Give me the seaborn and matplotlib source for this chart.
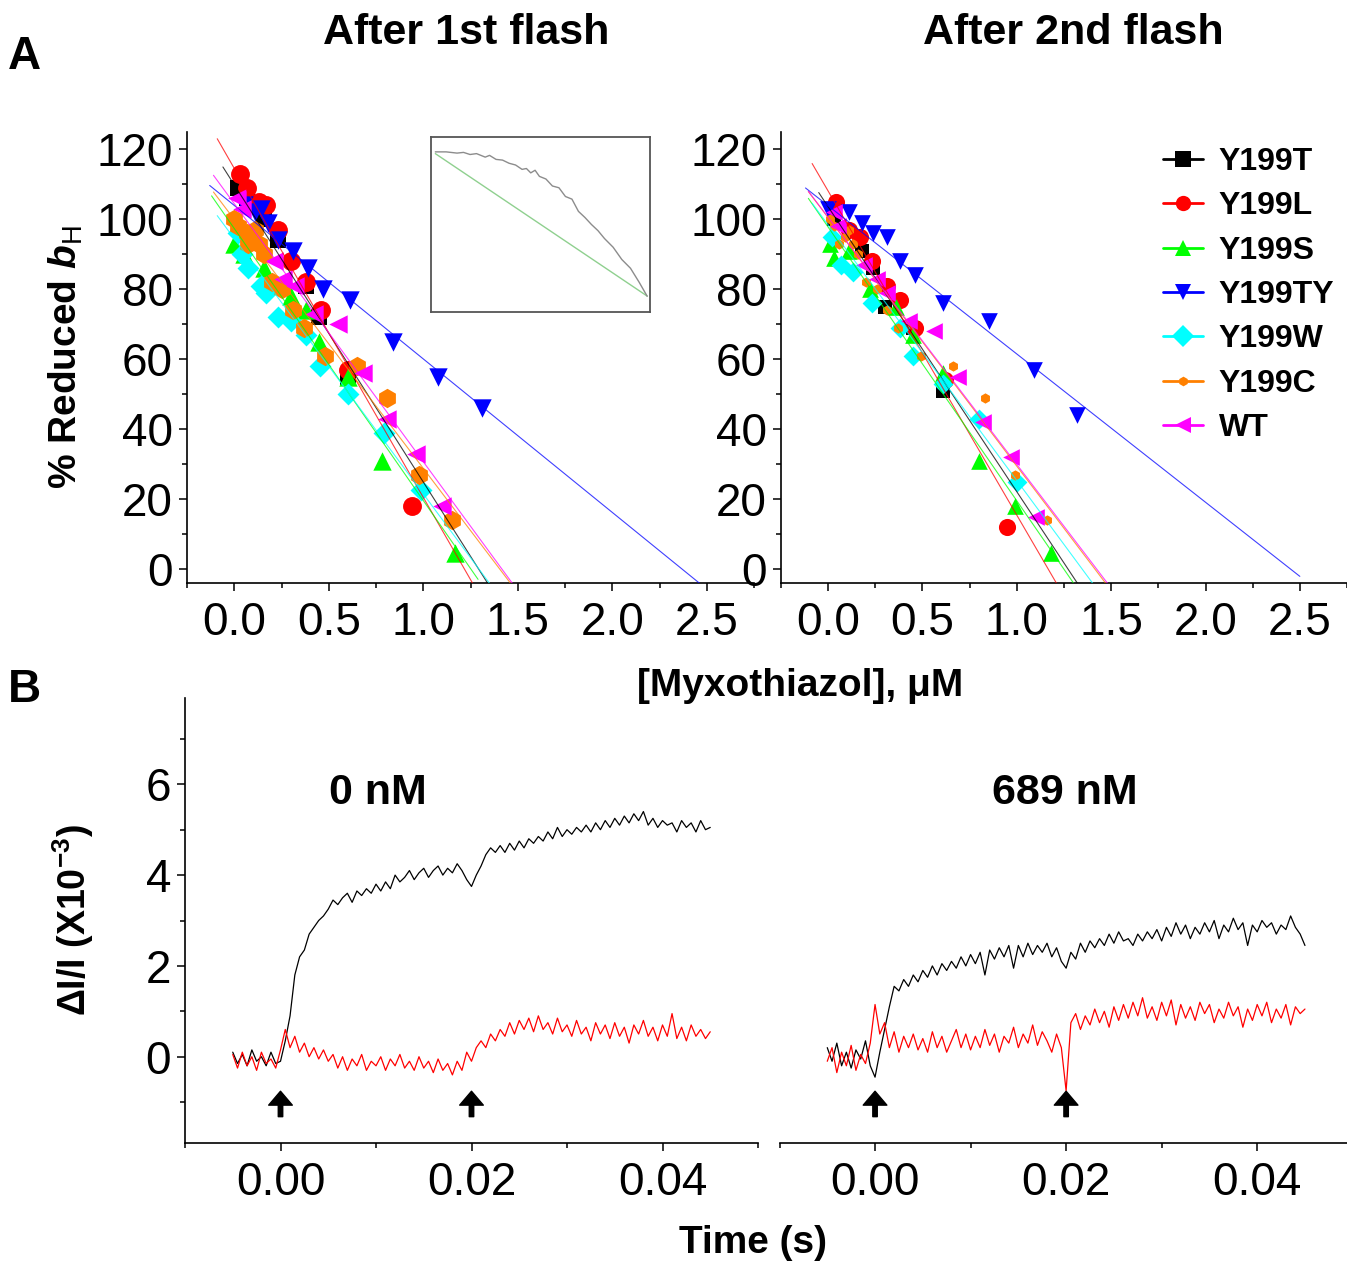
import numpy as np
import matplotlib
matplotlib.use("Agg")
import matplotlib.pyplot as plt
import seaborn as sns
from matplotlib.lines import Line2D
from matplotlib.ticker import MultipleLocator

# ---------------- Panel A: myxothiazol titration ----------------
mutants = ["Y199T", "Y199L", "Y199S", "Y199TY", "Y199W", "Y199C", "WT"]
colors = ["#000000", "#ff0000", "#00ff00", "#0000ff", "#00ffff", "#ff8000", "#ff00ff"]
markers = ["s", "o", "^", "v", "D", "h", "<"]

# after 1st flash
flash1_x = {
    "Y199T": [0.02, 0.07, 0.16, 0.23, 0.38, 0.45, 0.60],
    "Y199L": [0.03, 0.07, 0.13, 0.17, 0.23, 0.30, 0.38, 0.46, 0.60, 0.94],
    "Y199S": [0.00, 0.05, 0.16, 0.30, 0.38, 0.45, 0.60, 0.78, 1.17],
    "Y199TY": [0.05, 0.11, 0.14, 0.18, 0.23, 0.31, 0.39, 0.47, 0.61, 0.84, 1.08, 1.31],
    "Y199W": [0.02, 0.04, 0.075, 0.14, 0.17, 0.23, 0.30, 0.38, 0.455, 0.60, 0.79, 0.99],
    "Y199C": [0.0, 0.02, 0.07, 0.11, 0.075, 0.13, 0.155, 0.20, 0.25, 0.31, 0.37, 0.48, 0.65, 0.81, 0.98, 1.15],
    "WT": [0.015, 0.04, 0.21, 0.26, 0.32, 0.42, 0.55, 0.68, 0.81, 0.96, 1.10],
}
flash1_y = {
    "Y199T": [109, 106, 100, 94, 81, 72, 55],
    "Y199L": [113, 109, 105, 104, 97, 88, 82, 74, 57, 18],
    "Y199S": [93, 90, 86, 78, 74, 65, 55, 31, 4.6],
    "Y199TY": [104, 102, 103, 99, 94, 91, 86, 80, 77, 65, 55, 46],
    "Y199W": [96, 90, 86, 81, 79, 72, 71, 67, 58, 50, 39, 22.6],
    "Y199C": [100, 98, 96, 97, 93, 93, 90, 82, 80, 74, 69, 61, 58, 49, 27, 14],
    "WT": [106, 103, 88, 83, 81, 73, 70, 56, 43, 33, 18],
}
# linear fits: intercept, slope, x range
flash1_fit = {
    "Y199T": (109.9, -85.0, -0.06, 1.40),
    "Y199L": (114.6, -94.1, -0.09, 1.30),
    "Y199S": (97.4, -77.8, -0.12, 1.29),
    "Y199TY": (104.0, -43.9, -0.13, 2.50),
    "Y199W": (94.5, -73.0, -0.09, 1.40),
    "Y199C": (100.0, -71.2, -0.11, 1.50),
    "WT": (104.5, -73.8, -0.11, 1.50),
}

# after 2nd flash
flash2_x = {
    "Y199T": [0.03, 0.18, 0.24, 0.30, 0.45, 0.61],
    "Y199L": [0.04, 0.11, 0.17, 0.23, 0.31, 0.38, 0.46, 0.62, 0.95],
    "Y199S": [0.01, 0.03, 0.11, 0.22, 0.36, 0.45, 0.61, 0.80, 0.99, 1.18],
    "Y199TY": [0.0, 0.11, 0.18, 0.24, 0.31, 0.38, 0.46, 0.61, 0.85, 1.09, 1.32],
    "Y199W": [0.02, 0.07, 0.13, 0.23, 0.38, 0.45, 0.61, 0.80, 1.0],
    "Y199C": [0.01, 0.03, 0.11, 0.09, 0.06, 0.13, 0.16, 0.20, 0.26, 0.31, 0.37, 0.49, 0.66, 0.83, 0.99, 1.16],
    "WT": [0.03, 0.05, 0.19, 0.26, 0.31, 0.43, 0.56, 0.69, 0.82, 0.97, 1.10],
}
flash2_y = {
    "Y199T": [100, 91, 86, 75, 69, 51],
    "Y199L": [105, 97, 95, 88, 81, 77, 69, 54, 12],
    "Y199S": [93, 89, 91, 80, 75, 67, 56, 31, 18, 4.6],
    "Y199TY": [103, 102, 99, 96, 95, 88, 84, 76, 71, 57, 44],
    "Y199W": [95, 87, 85, 76, 69, 61, 53, 43, 25],
    "Y199C": [100, 98, 97, 95, 93, 93, 90, 82, 80, 74, 69, 61, 58, 49, 27, 14],
    "WT": [102, 98, 87, 83, 79, 71, 68, 55, 42, 32, 15],
}
flash2_fit = {
    "Y199T": (103.6, -81.5, -0.05, 1.40),
    "Y199L": (108.1, -92.7, -0.085, 1.30),
    "Y199S": (97.8, -78.3, -0.105, 1.30),
    "Y199TY": (103.9, -42.4, -0.12, 2.50),
    "Y199W": (98.4, -73.1, -0.085, 1.45),
    "Y199C": (100.5, -71.1, -0.105, 1.50),
    "WT": (100.6, -70.7, -0.105, 1.50),
}

# inset (arbitrary units)
inset_curve_x = [0.02, 0.07, 0.12, 0.15, 0.18, 0.21, 0.25, 0.27, 0.30, 0.33, 0.36, 0.39, 0.42, 0.44,
                 0.46, 0.48, 0.50, 0.53, 0.56, 0.59, 0.62, 0.65, 0.68, 0.71, 0.74, 0.77, 0.80, 0.84,
                 0.88, 0.92, 0.96, 0.997]
inset_curve_y = [0.915, 0.915, 0.908, 0.912, 0.900, 0.905, 0.885, 0.895, 0.872, 0.868, 0.850, 0.840,
                 0.815, 0.820, 0.795, 0.810, 0.775, 0.760, 0.720, 0.710, 0.660, 0.645, 0.575, 0.540,
                 0.500, 0.465, 0.420, 0.370, 0.300, 0.250, 0.170, 0.090]
inset_line_x = [0.02, 0.997]
inset_line_y = [0.905, 0.091]

# ---------------- Panel B: kinetic traces (dI/I x 1e-3) ----------------
trace_t = np.linspace(-0.005, 0.045, 101)
black_0nM = [0.1, -0.15, 0.05, -0.2, 0.15, -0.1, 0.0, -0.2, 0.1, -0.15,
             -0.1, 0.35, 0.9, 1.8, 2.2, 2.35, 2.7, 2.85, 3.0, 3.1,
             3.25, 3.45, 3.35, 3.5, 3.6, 3.4, 3.65, 3.55, 3.7, 3.6,
             3.8, 3.65, 3.85, 3.7, 4.0, 3.85, 3.95, 4.1, 3.9, 4.05,
             4.15, 3.95, 4.1, 4.2, 4.0, 4.15, 4.05, 4.25, 4.1, 3.9,
             3.75, 4.0, 4.2, 4.45, 4.6, 4.5, 4.65, 4.5, 4.7, 4.55,
             4.75, 4.6, 4.8, 4.7, 4.85, 4.75, 4.95, 4.8, 5.05, 4.85,
             5.0, 4.9, 5.05, 4.95, 5.1, 4.95, 5.15, 5.0, 5.2, 5.05,
             5.25, 5.1, 5.3, 5.15, 5.35, 5.2, 5.4, 5.1, 5.25, 5.05,
             5.2, 5.1, 5.15, 4.95, 5.2, 5.05, 5.15, 4.95, 5.2, 5.0, 5.05]
red_0nM = [0.05, -0.25, 0.1, -0.2, 0.0, -0.3, 0.1, -0.15, -0.05, -0.25,
           0.15, 0.6, 0.2, 0.45, 0.1, 0.3, 0.0, 0.2, -0.05, 0.15,
           -0.1, 0.05, -0.25, 0.0, -0.3, -0.05, -0.2, 0.05, -0.3, -0.1,
           -0.2, 0.0, -0.3, -0.05, -0.2, 0.05, -0.25, -0.1, -0.3, 0.0,
           -0.25, -0.1, -0.35, -0.05, -0.3, -0.15, -0.4, -0.1, -0.3, 0.1,
           -0.1, 0.2, 0.35, 0.2, 0.5, 0.35, 0.6, 0.45, 0.75, 0.5,
           0.8, 0.6, 0.85, 0.55, 0.9, 0.6, 0.75, 0.5, 0.85, 0.55,
           0.7, 0.45, 0.8, 0.5, 0.65, 0.35, 0.75, 0.5, 0.7, 0.4,
           0.75, 0.45, 0.65, 0.3, 0.7, 0.5, 0.8, 0.45, 0.65, 0.35,
           0.7, 0.45, 0.95, 0.4, 0.65, 0.35, 0.7, 0.45, 0.6, 0.4, 0.55]
black_689nM = [0.2, -0.1, 0.3, -0.2, 0.1, -0.25, 0.15, -0.05, 0.35, -0.2,
               -0.45, 0.1, 0.6, 1.1, 1.55, 1.45, 1.7, 1.55, 1.8, 1.65,
               1.9, 1.75, 2.0, 1.8, 2.05, 1.9, 2.1, 1.95, 2.2, 2.0,
               2.25, 2.05, 2.3, 1.8, 2.35, 2.15, 2.4, 2.2, 2.45, 1.95,
               2.45, 2.2, 2.5, 2.25, 2.45, 2.3, 2.5, 2.2, 2.4, 2.1,
               1.95, 2.3, 2.15, 2.5, 2.3, 2.55, 2.4, 2.6, 2.45, 2.7,
               2.5, 2.75, 2.55, 2.6, 2.45, 2.7, 2.55, 2.75, 2.6, 2.8,
               2.55, 2.85, 2.65, 2.95, 2.7, 2.9, 2.6, 2.85, 2.7, 2.95,
               2.75, 3.0, 2.6, 2.9, 2.75, 3.05, 2.8, 2.95, 2.45, 2.9,
               2.75, 3.0, 2.85, 2.95, 2.7, 2.9, 2.8, 3.1, 2.85, 2.7, 2.45]
red_689nM = [-0.1, 0.2, -0.35, 0.1, -0.2, 0.25, -0.3, 0.05, -0.15, 0.3,
             1.15, 0.5, 0.75, 0.2, 0.55, 0.1, 0.45, 0.2, 0.5, 0.15,
             0.4, 0.1, 0.55, 0.2, 0.45, 0.1, 0.35, 0.6, 0.2, 0.5,
             0.15, 0.45, 0.2, 0.6, 0.25, 0.5, 0.1, 0.45, 0.3, 0.65,
             0.2, 0.5, 0.3, 0.7, 0.25, 0.55, 0.35, 0.1, 0.5, 0.2,
             -0.75, 0.75, 0.95, 0.6, 0.9, 0.7, 1.05, 0.75, 1.0, 0.65,
             1.1, 0.8, 1.15, 0.85, 1.2, 0.9, 1.3, 0.85, 1.1, 0.8,
             1.2, 0.9, 1.25, 0.7, 1.15, 0.85, 1.1, 0.8, 1.2, 0.95,
             1.15, 0.75, 1.05, 0.85, 1.2, 0.9, 1.1, 0.65, 1.05, 0.8,
             1.15, 0.9, 1.2, 0.75, 1.05, 0.85, 1.15, 0.7, 1.1, 0.95, 1.05]
flash_times = [0.0, 0.02]

# ---------------- styling ----------------
sns.set_theme(style="ticks")
plt.rcParams["font.family"] = ["Liberation Sans", "DejaVu Sans"]
plt.rcParams["mathtext.fontset"] = "custom"
plt.rcParams["mathtext.rm"] = "Liberation Sans"
plt.rcParams["mathtext.it"] = "Liberation Sans:bold:italic"
plt.rcParams["mathtext.bf"] = "Liberation Sans:bold"
for key in ["text.color", "axes.labelcolor", "xtick.color", "ytick.color", "axes.edgecolor"]:
    plt.rcParams[key] = "black"

W, H = 1347, 1267
fig = plt.figure(figsize=(W / 100, H / 100), dpi=100)


def box(x0, y0, x1, y1):
    return [x0 / W, 1 - y1 / H, (x1 - x0) / W, (y1 - y0) / H]


TICK_FS = 33


def style_axis(ax, left=True):
    for s in ["top", "right"]:
        ax.spines[s].set_visible(False)
    for s in ["left", "bottom"]:
        ax.spines[s].set_linewidth(1.2)
        ax.spines[s].set_color("black")
    ax.tick_params(which="major", direction="out", length=6, width=1.1,
                   labelsize=TICK_FS, pad=4, color="black", labelcolor="black")
    ax.tick_params(axis="x", which="major", pad=7)
    ax.tick_params(which="minor", direction="out", length=3.5, width=1.1, color="black")
    if not left:
        ax.spines["left"].set_visible(False)
        ax.tick_params(axis="y", which="both", left=False, labelleft=False)
    ax.grid(False)
    ax.set_facecolor("white")


sizes = {"s": 125, "o": 185, "^": 175, "v": 175, "D": 125, "h": 195, "<": 175}


def draw_titration(ax, xs, ys, fits, scale=1.0, small_c=False):
    for name, c, m in zip(mutants, colors, markers):
        a, b, x0, x1 = fits[name]
        lx = np.array([x0, x1])
        sns.lineplot(x=lx, y=a + b * lx, ax=ax, color=c, lw=0.8, alpha=0.75,
                     estimator=None, sort=False, zorder=4)
        s = sizes[m] * scale
        if small_c and name == "Y199C":
            s = 55
        sns.scatterplot(x=xs[name], y=ys[name], ax=ax, color=c, marker=m, s=s,
                        linewidth=0, zorder=3)
    ax.set_xlim(-0.25, 2.75)
    ax.set_ylim(-4, 125)
    ax.xaxis.set_minor_locator(MultipleLocator(0.25))
    ax.yaxis.set_major_locator(MultipleLocator(20))
    ax.yaxis.set_minor_locator(MultipleLocator(10))
    ax.set_xticks([0, 0.5, 1.0, 1.5, 2.0, 2.5])
    ax.set_xticklabels(["0.0", "0.5", "1.0", "1.5", "2.0", "2.5"])
    ax.set_xlabel("")
    ax.set_ylabel("")


ax1 = fig.add_axes(box(187, 132, 754, 583))
ax2 = fig.add_axes(box(781, 132, 1347, 583))
for ax in (ax1, ax2):
    style_axis(ax)
draw_titration(ax1, flash1_x, flash1_y, flash1_fit)
draw_titration(ax2, flash2_x, flash2_y, flash2_fit, scale=0.82, small_c=True)

ax1.set_ylabel(r"% Reduced $b_{\mathrm{H}}$", fontsize=28, fontweight="bold")
ax1.yaxis.set_label_coords(-0.18, 0.5)

# legend
handles = []
for name, c, m in zip(mutants, colors, markers):
    ms = 7 if name == "Y199C" else 11
    handles.append(Line2D([], [], color=c, marker=m, markersize=ms, lw=2,
                          markeredgewidth=0))
fig.legend(handles, mutants, loc="upper left", bbox_to_anchor=(1147 / W, 1 - 131 / H),
           frameon=False, prop={"weight": "bold", "size": 23}, handlelength=1.25,
           handletextpad=0.5, labelspacing=0.45, borderpad=0)

# inset
axi = fig.add_axes(box(431, 137, 650, 312))
sns.lineplot(x=inset_line_x, y=inset_line_y, ax=axi, color="#8fd08f", lw=1.0,
             estimator=None, sort=False)
sns.lineplot(x=inset_curve_x, y=inset_curve_y, ax=axi, color="#8c8c8c", lw=1.0,
             estimator=None, sort=False)
axi.set_xlim(0, 1.01)
axi.set_ylim(0, 1)
axi.set_xticks([])
axi.set_yticks([])
for s in axi.spines.values():
    s.set_color("#555555")
    s.set_linewidth(1.3)

# ---------------- panel B ----------------
ax3 = fig.add_axes(box(185, 698, 758, 1143))
ax4 = fig.add_axes(box(779.5, 698, 1347, 1143))
style_axis(ax3)
style_axis(ax4, left=False)

for ax, blk, red, xmax in ((ax3, black_0nM, red_0nM, 0.05), (ax4, black_689nM, red_689nM, 0.0494)):
    sns.lineplot(x=trace_t, y=blk, ax=ax, color="black", lw=0.9, estimator=None, sort=False)
    sns.lineplot(x=trace_t, y=red, ax=ax, color="red", lw=0.9, estimator=None, sort=False)
    for ft in flash_times:
        ax.annotate("", xy=(ft, -0.76), xytext=(ft, -1.32),
                    arrowprops=dict(facecolor="black", edgecolor="black", width=3.2,
                                    headwidth=17, headlength=10, shrink=0))
    ax.set_xlim(-0.01, xmax)
    ax.set_ylim(-1.9, 7.9)
    ax.set_xticks([0.0, 0.02, 0.04])
    ax.set_xticklabels(["0.00", "0.02", "0.04"])
    ax.xaxis.set_minor_locator(MultipleLocator(0.01))
    ax.yaxis.set_major_locator(MultipleLocator(2))
    ax.yaxis.set_minor_locator(MultipleLocator(1))
    ax.set_xlabel("")
    ax.set_ylabel("")

ax3.set_yticks([0, 2, 4, 6])
ax3.set_ylabel(r"ΔI/I (X10$^{\mathbf{-3}}$)", fontsize=27, fontweight="bold")
ax3.yaxis.set_label_coords(-0.155, 0.5)

ax3.text(0.337, 0.787, "0 nM", transform=ax3.transAxes, ha="center", va="center",
         fontsize=31, fontweight="bold")
ax4.text(0.503, 0.787, "689 nM", transform=ax4.transAxes, ha="center", va="center",
         fontsize=31, fontweight="bold")

# figure texts
fig.text(466 / W, 1 - 33 / H, "After 1st flash", ha="center", va="center",
         fontsize=31, fontweight="bold")
fig.text(1073 / W, 1 - 33 / H, "After 2nd flash", ha="center", va="center",
         fontsize=31, fontweight="bold")
fig.text(8 / W, 1 - 57 / H, "A", ha="left", va="center", fontsize=33, fontweight="bold")
fig.text(8 / W, 1 - 690 / H, "B", ha="left", va="center", fontsize=33, fontweight="bold")
fig.text(800 / W, 1 - 686 / H, "[Myxothiazol], μM", ha="center", va="center",
         fontsize=28, fontweight="bold")
fig.text(753 / W, 1 - 1243 / H, "Time (s)", ha="center", va="center",
         fontsize=28, fontweight="bold")

fig.savefig("out.png", dpi=100, facecolor="white")
